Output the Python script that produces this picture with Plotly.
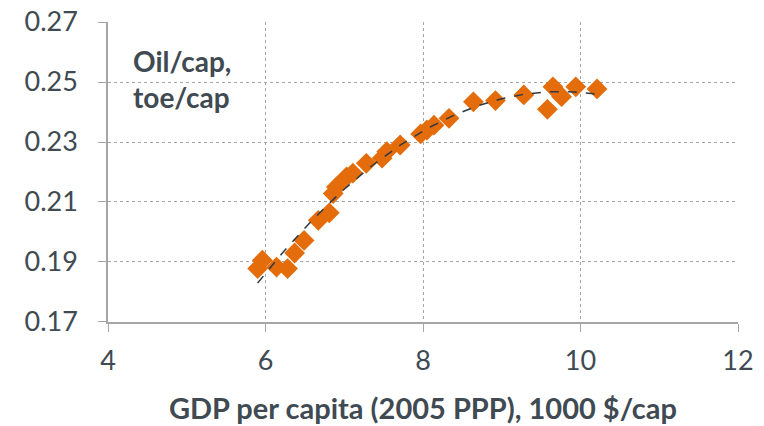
import numpy as np
import plotly.graph_objects as go

gdp = [5.90, 5.96, 6.14, 6.28, 6.37, 6.49, 6.67, 6.81, 6.86, 6.90, 7.03, 7.11,
       7.28, 7.48, 7.54, 7.71, 7.97, 8.05, 8.14, 8.33, 8.64, 8.92, 9.28, 9.58,
       9.65, 9.76, 9.94, 10.21]
oil = [0.1878, 0.1906, 0.1883, 0.1878, 0.1930, 0.1972, 0.2039, 0.2064, 0.2128,
       0.2150, 0.2184, 0.2196, 0.2229, 0.2246, 0.2268, 0.2290, 0.2327, 0.2340,
       0.2356, 0.2379, 0.2434, 0.2438, 0.2457, 0.2409, 0.2484, 0.2451, 0.2484,
       0.2477]
x_ticks = [4, 6, 8, 10, 12]
y_ticks = [0.17, 0.19, 0.21, 0.23, 0.25, 0.27]

# polynomial (order 2) trendline fitted to the data
coef = np.polyfit(gdp, oil, 2)
tx = np.linspace(min(gdp), max(gdp), 60)
ty = np.polyval(coef, tx)

FONT = "Lato"
TXT = "#404A52"
fig = go.Figure()
fig.add_trace(go.Scatter(x=gdp, y=oil, mode="markers",
                         marker=dict(symbol="diamond", size=16, color="#E46C0A",
                                     line=dict(width=0)),
                         showlegend=False))
fig.add_trace(go.Scatter(x=tx, y=ty, mode="lines",
                         line=dict(color="#2F3A45", width=1.5, dash="dash"),
                         showlegend=False))

fig.update_layout(
    width=764, height=426,
    margin=dict(l=108, r=26, t=22, b=104),
    paper_bgcolor="white", plot_bgcolor="white",
    font=dict(family=FONT, color=TXT),
    xaxis=dict(range=[4, 12], tickvals=x_ticks, ticktext=[str(v) for v in x_ticks],
               showgrid=True, gridcolor="#A6A6A6", griddash="dot", gridwidth=1,
               showline=True, linecolor="#A6A6A6", linewidth=1.5,
               ticks="outside", ticklen=8, tickcolor="#A6A6A6",
               tickfont=dict(size=27, color=TXT), zeroline=False, automargin=False,
               ticklabelstandoff=6,
               title=dict(text="<b>GDP per capita (2005 PPP), 1000 $/cap</b>",
                          font=dict(size=29, color=TXT), standoff=24)),
    yaxis=dict(range=[0.16999, 0.27001], tickvals=y_ticks,
               ticktext=[f"{v:.2f}" for v in y_ticks],
               showgrid=True, gridcolor="#A6A6A6", griddash="dot", gridwidth=1,
               showline=True, linecolor="#A6A6A6", linewidth=1.5,
               ticks="outside", ticklen=8, tickcolor="#A6A6A6",
               tickfont=dict(size=27, color=TXT), zeroline=False, automargin=False,
               ticklabelstandoff=15, ticklabeloverflow="allow"),
    annotations=[dict(text="<b>Oil/cap,<br>toe/cap</b>", xref="paper", yref="paper",
                      x=(131 - 108) / 630, y=(322 - 42) / 300,
                      xanchor="left", yanchor="top", align="left",
                      showarrow=False, font=dict(size=28, color=TXT, family=FONT))],
)
# remove the browser's default 8px page margin so the figure fills the window
fig.write_html("out.html", config={"displayModeBar": False},
               post_script="document.body.style.margin='0';")
